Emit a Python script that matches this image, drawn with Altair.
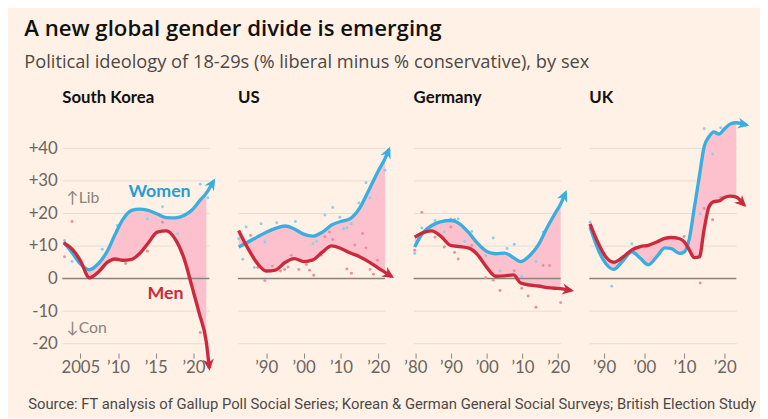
import math
import altair as alt
import pandas as pd

# ---------------- style ----------------
BG = "#fff1e5"
BLUE = "#3aafdf"
RED = "#cc2a3c"
PINK = "#fcc1cc"
BLUE_DOT = "#8ccfea"
RED_DOT = "#ec8f9c"
GRID = "#e8dbd0"
ZERO = "#8a837d"
GREY = "#6b6561"
FONT = "Lato"
ARROW = "M0.3,0L-1,-0.62L-0.6,0L-1,0.62Z"

PANEL_W = 149
PANEL_H = 241
Y_DOMAIN = [-22, 51]
GRID_VALUES = [-20, -10, 0, 10, 20, 30, 40]
ZERO_LINE = [0]

TITLE = "A new global gender divide is emerging"
SUBTITLE = "Political ideology of 18-29s (% liberal minus % conservative), by sex"
SOURCE = ("Source: FT analysis of Gallup Poll Social Series; Korean & German General "
          "Social Surveys; British Election Study")

# ---------------- data ----------------
# South Korea
SK_YEARS = [2002.8, 2004.0, 2005.0, 2006.2, 2007.4, 2008.6, 2009.6, 2010.6, 2011.8,
            2012.8, 2014.0, 2015.2, 2016.4, 2017.6, 2018.8, 2019.8, 2020.8, 2021.7]
SK_WOMEN = [11.2, 7.6, 4.5, 2.7, 4.6, 8.5, 13.5, 18.0, 20.9,
            21.3, 20.9, 19.8, 18.7, 18.6, 19.4, 21.0, 23.8, 26.2]
SK_MEN = [10.9, 8.8, 5.5, 0.2, 2.0, 5.0, 6.0, 5.6, 5.9,
          7.5, 10.9, 14.2, 14.6, 12.0, 5.8, -2.5, -11.0, -19.5]
SK_WOMEN_TIP = [2022.7, 30.0]
SK_MEN_TIP = [2022.1, -27.5]
SK_W_DOT_YEARS = [2002.9, 2003.9, 2007.9, 2009.9, 2013.9, 2015.9, 2017.9, 2020.9, 2021.9]
SK_W_DOT_VALUES = [11.7, 5.2, 9.0, 16.3, 18.3, 22.0, 13.7, 28.9, 24.8]
SK_M_DOT_YEARS = [2002.9, 2003.9, 2011.0, 2013.9, 2015.9, 2020.9]
SK_M_DOT_VALUES = [6.7, 17.5, 4.6, 8.4, 17.3, -16.6]

# US
US_YEARS = [1982.6, 1985.0, 1987.5, 1990.0, 1992.5, 1995.0, 1997.5, 2000.0, 2002.5,
            2005.0, 2007.5, 2010.0, 2012.5, 2015.0, 2017.5, 2020.0, 2021.8]
US_WOMEN = [9.7, 11.1, 12.7, 14.2, 15.4, 16.1, 15.2, 13.6, 13.0,
            14.2, 16.4, 17.5, 18.4, 21.6, 27.2, 33.0, 36.8]
US_MEN = [14.7, 9.4, 4.8, 2.3, 2.6, 4.9, 6.1, 5.2, 5.7,
          8.1, 10.0, 9.2, 7.8, 6.7, 5.1, 3.2, 1.9]
US_WOMEN_TIP = [2022.9, 39.7]
US_MEN_TIP = [2023.6, 0.6]
US_W_DOT_YEARS = [1982.6, 1983.7, 1984.6, 1986.8, 1988.6, 1989.6, 1992.8, 1995.9, 1997.8,
                  2002.5, 2003.5, 2005.7, 2007.8, 2009.7, 2010.7, 2011.6, 2012.8, 2014.8,
                  2016.7, 2017.8, 2021.8]
US_W_DOT_VALUES = [12.2, 5.9, 15.8, 3.4, 16.8, 11.2, 17.1, 16.1, 17.5,
                   10.7, 11.4, 19.5, 21.8, 18.8, 15.3, 15.6, 16.8, 23.2,
                   29.4, 24.7, 33.2]
US_M_DOT_YEARS = [1985.8, 1987.7, 1989.6, 1991.6, 1993.8, 1994.9, 1995.8, 1996.7, 1998.7,
                  2000.7, 2001.6, 2002.7, 2004.7, 2005.7, 2006.9, 2007.8, 2011.6, 2012.8,
                  2013.7, 2015.8, 2016.7, 2017.8, 2018.7, 2019.8]
US_M_DOT_VALUES = [13.2, 3.4, -0.6, 3.8, 2.3, 2.8, 3.5, 7.1, 2.8,
                   4.3, 2.5, 1.0, 7.1, 12.8, 14.3, 12.0, 2.9, 1.6,
                   10.3, 13.8, 9.4, 2.8, 1.3, 5.6]

# Germany
DE_YEARS = [1979.8, 1982.0, 1984.5, 1987.0, 1990.0, 1992.5, 1995.0, 1997.5, 2000.0,
            2002.5, 2005.0, 2007.5, 2009.5, 2012.0, 2014.5, 2017.0, 2019.0, 2020.7]
DE_WOMEN = [9.7, 13.9, 16.2, 17.4, 17.8, 16.7, 14.0, 10.7, 8.3,
            7.6, 7.8, 6.4, 5.2, 7.0, 10.4, 15.8, 19.7, 22.9]
DE_MEN = [12.7, 14.0, 14.6, 13.1, 10.1, 9.8, 9.3, 7.2, 3.4,
          0.7, 0.8, 1.1, -1.4, -2.0, -2.3, -2.8, -3.0, -3.1]
DE_WOMEN_TIP = [2022.1, 26.4]
DE_MEN_TIP = [2023.7, -3.7]
DE_W_DOT_YEARS = [1979.8, 1981.8, 1985.5, 1988.1, 1989.9, 1991.0, 1992.0, 1993.8, 1995.8,
                  1999.7, 2001.8, 2003.7, 2005.7, 2007.7, 2009.8, 2013.8, 2015.8]
DE_W_DOT_VALUES = [7.7, 15.5, 17.8, 14.3, 18.3, 18.1, 18.3, 11.4, 14.4,
                   7.0, 12.4, 2.3, 9.2, 10.5, 0.6, 5.2, 14.3]
DE_M_DOT_YEARS = [1979.8, 1981.8, 1985.5, 1988.1, 1989.9, 1991.0, 1992.0, 1995.8, 1999.7,
                  2001.8, 2003.7, 2007.7, 2009.8, 2011.6, 2013.8, 2015.8, 2017.6, 2020.7]
DE_M_DOT_VALUES = [8.7, 20.3, 12.7, 9.7, 15.8, 8.0, 6.0, 10.1, 0.2,
                   -0.5, -3.7, 2.4, -3.0, -5.4, -8.8, 4.0, 4.0, -7.4]

# UK
UK_YEARS = [1986.5, 1988.4, 1990.4, 1992.4, 1994.5, 1996.9, 1999.0, 2001.0, 2003.1,
            2005.1, 2006.7, 2008.8, 2010.0, 2011.2, 2012.4, 2013.7, 2014.9, 2016.1,
            2017.3, 2018.6, 2019.8, 2021.4, 2022.9]
UK_WOMEN = [15.8, 9.2, 4.6, 2.8, 5.2, 8.2, 6.2, 4.2, 6.7,
            9.4, 9.2, 7.7, 8.2, 12.2, 21.3, 31.4, 40.5, 43.5,
            45.0, 44.3, 45.7, 47.4, 47.8]
UK_MEN = [16.8, 11.2, 6.7, 5.0, 6.4, 8.8, 9.8, 10.2, 11.2,
          12.3, 12.6, 12.2, 11.2, 8.8, 6.4, 6.6, 15.2, 22.0,
          23.6, 23.8, 24.8, 25.3, 25.0]
UK_WOMEN_TIP = [2025.5, 47.1]
UK_MEN_TIP = [2024.9, 22.5]
UK_W_DOT_YEARS = [1986.5, 1991.9, 1996.9, 2013.9, 2014.9, 2017.0, 2019.0]
UK_W_DOT_VALUES = [17.3, -2.4, 10.7, 19.8, 46.0, 38.2, 46.3]
UK_M_DOT_YEARS = [1986.5, 2009.9, 2013.9, 2014.9, 2017.0, 2019.0]
UK_M_DOT_VALUES = [16.3, 12.9, -1.4, 21.5, 18.0, 24.9]

# annotations (South Korea panel)
SK_LABELS = ["Women", "Men"]
SK_LABEL_YEARS = [2015.5, 2016.3]
SK_LABEL_VALUES = [26.6, -4.9]
SK_SIDE_NOTES = ["\u2191Lib", "\u2193Con"]
SK_SIDE_YEARS = [2003.2, 2003.2]
SK_SIDE_VALUES = [24.6, -15.1]

# x-axis ticks and domains
SK_TICKS = [2005, 2010, 2015, 2020]
US_TICKS = [1990, 2000, 2010, 2020]
DE_TICKS = [1980, 1990, 2000, 2010, 2020]
UK_TICKS = [1990, 2000, 2010, 2020]
SK_DOMAIN = [2002.6, 2022.1]
US_DOMAIN = [1982.4, 2021.8]
DE_DOMAIN = [1979.5, 2020.7]
UK_DOMAIN = [1986.3, 2022.9]


def panel(name, years, women, men, w_tip, m_tip, w_dots, m_dots, xdom, ticks,
          y_labels=False, notes=False):
    kx = PANEL_W / (xdom[1] - xdom[0])
    ky = PANEL_H / (Y_DOMAIN[1] - Y_DOMAIN[0])

    def ang(x0, y0, x1, y1):
        return math.degrees(math.atan2(-(y1 - y0) * ky, (x1 - x0) * kx)) % 360

    band = pd.DataFrame({"year": years, "women": women, "men": men})
    wline = pd.DataFrame({"year": years + [w_tip[0]], "value": women + [w_tip[1]]})
    mline = pd.DataFrame({"year": years + [m_tip[0]], "value": men + [m_tip[1]]})
    wtip = pd.DataFrame({"year": [w_tip[0]], "value": [w_tip[1]],
                         "angle": [ang(years[-1], women[-1], *w_tip)]})
    mtip = pd.DataFrame({"year": [m_tip[0]], "value": [m_tip[1]],
                         "angle": [ang(years[-1], men[-1], *m_tip)]})
    wd = pd.DataFrame({"year": w_dots[0], "value": w_dots[1]})
    md = pd.DataFrame({"year": m_dots[0], "value": m_dots[1]})

    expr = "datum.value == 2005 ? '2005' : '\u2019' + slice(toString(datum.value), 2)"
    xaxis = alt.Axis(values=ticks, labelExpr=expr, title=None, domain=False,
                     ticks=True, tickSize=5, tickColor=ZERO, tickWidth=1,
                     labelColor=GREY, labelFont=FONT, labelFontSize=17,
                     labelPadding=2, offset=3, grid=False, labelFlush=False,
                     labelOverlap=False)
    if y_labels:
        yaxis = alt.Axis(values=GRID_VALUES, title=None, domain=False, ticks=False,
                         grid=True, gridColor=GRID, gridWidth=1,
                         labelExpr="datum.value > 0 ? '+' + datum.value : (datum.value < 0 ? '-' + abs(datum.value) : '0')",
                         labelColor=GREY, labelFont=FONT, labelFontSize=17,
                         labelPadding=5)
    else:
        yaxis = alt.Axis(values=GRID_VALUES, title=None, domain=False, ticks=False,
                         labels=False, grid=True, gridColor=GRID, gridWidth=1)
    xs = alt.Scale(domain=xdom, nice=False, zero=False)
    ys = alt.Scale(domain=Y_DOMAIN, nice=False, zero=False)
    X = alt.X("year:Q", scale=xs, axis=xaxis)
    Y = alt.Y("value:Q", scale=ys, axis=yaxis)

    area = alt.Chart(band).mark_area(color=PINK, interpolate="monotone", clip=False).encode(
        x=X, y=alt.Y("women:Q", scale=ys, axis=yaxis), y2="men:Q")
    zero = alt.Chart(pd.DataFrame({"v": ZERO_LINE})).mark_rule(color=ZERO, strokeWidth=1.3).encode(
        y=alt.Y("v:Q", scale=ys, axis=yaxis))
    wdots = alt.Chart(wd).mark_circle(size=9, color=BLUE_DOT, opacity=1).encode(x=X, y=Y)
    mdots = alt.Chart(md).mark_circle(size=9, color=RED_DOT, opacity=1).encode(x=X, y=Y)
    wl = alt.Chart(wline).mark_line(color=BLUE, strokeWidth=3.4, interpolate="monotone",
                                    clip=False).encode(x=X, y=Y)
    ml = alt.Chart(mline).mark_line(color=RED, strokeWidth=3.4, interpolate="monotone",
                                    clip=False).encode(x=X, y=Y)
    wa = alt.Chart(wtip).mark_point(shape=ARROW, filled=True, size=330, color=BLUE,
                                    opacity=1, clip=False).encode(
        x=X, y=Y, angle=alt.Angle("angle:Q", scale=None))
    ma = alt.Chart(mtip).mark_point(shape=ARROW, filled=True, size=330, color=RED,
                                    opacity=1, clip=False).encode(
        x=X, y=Y, angle=alt.Angle("angle:Q", scale=None))
    layers = [area, zero, wdots, mdots, wl, ml, wa, ma]
    if notes:
        lab = pd.DataFrame({"t": SK_LABELS, "year": SK_LABEL_YEARS, "value": SK_LABEL_VALUES})
        wt = alt.Chart(lab.iloc[[0]]).mark_text(font=FONT, fontSize=18, fontWeight="bold",
                                                color="#1f9fd6").encode(x=X, y=Y, text="t:N")
        mt = alt.Chart(lab.iloc[[1]]).mark_text(font=FONT, fontSize=18, fontWeight="bold",
                                                color=RED).encode(x=X, y=Y, text="t:N")
        side = pd.DataFrame({"t": SK_SIDE_NOTES, "year": SK_SIDE_YEARS, "value": SK_SIDE_VALUES})
        st = alt.Chart(side).mark_text(font=FONT, fontSize=16, color="#8a837d",
                                       align="left").encode(x=X, y=Y, text="t:N")
        layers += [wt, mt, st]
    return alt.layer(*layers).properties(
        width=PANEL_W, height=PANEL_H,
        title=alt.TitleParams(name, anchor="start", frame="group", font=FONT,
                              fontSize=17, fontWeight="bold", color="#111111",
                              offset=5))


p1 = panel("South Korea", SK_YEARS, SK_WOMEN, SK_MEN, SK_WOMEN_TIP, SK_MEN_TIP,
           (SK_W_DOT_YEARS, SK_W_DOT_VALUES), (SK_M_DOT_YEARS, SK_M_DOT_VALUES),
           SK_DOMAIN, SK_TICKS, y_labels=True, notes=True)
p2 = panel("US", US_YEARS, US_WOMEN, US_MEN, US_WOMEN_TIP, US_MEN_TIP,
           (US_W_DOT_YEARS, US_W_DOT_VALUES), (US_M_DOT_YEARS, US_M_DOT_VALUES),
           US_DOMAIN, US_TICKS)
p3 = panel("Germany", DE_YEARS, DE_WOMEN, DE_MEN, DE_WOMEN_TIP, DE_MEN_TIP,
           (DE_W_DOT_YEARS, DE_W_DOT_VALUES), (DE_M_DOT_YEARS, DE_M_DOT_VALUES),
           DE_DOMAIN, DE_TICKS)
p4 = panel("UK", UK_YEARS, UK_WOMEN, UK_MEN, UK_WOMEN_TIP, UK_MEN_TIP,
           (UK_W_DOT_YEARS, UK_W_DOT_VALUES), (UK_M_DOT_YEARS, UK_M_DOT_VALUES),
           UK_DOMAIN, UK_TICKS)

inner = alt.hconcat(p1, p2, p3, p4, spacing=29, bounds="flush").properties(
    title=alt.TitleParams(SOURCE, orient="bottom", anchor="start", frame="bounds",
                          font="Roboto", fontSize=15, fontWeight="normal",
                          color="#4d4845", offset=22))

chart = alt.vconcat(inner).properties(
    title=alt.TitleParams(TITLE, subtitle=SUBTITLE, anchor="start", frame="bounds",
                          font="Open Sans", fontSize=22.5, fontWeight=600, color="#111111",
                          subtitleFont="Open Sans", subtitleFontSize=18.5,
                          subtitleColor="#4d4845", subtitlePadding=13, offset=18,
                          dx=-4)
).configure(background=BG, padding={"left": 16, "top": 8, "right": 3, "bottom": 3}
).configure_view(stroke=None)

chart.save("out.html", embed_options={"renderer": "svg", "actions": False})
